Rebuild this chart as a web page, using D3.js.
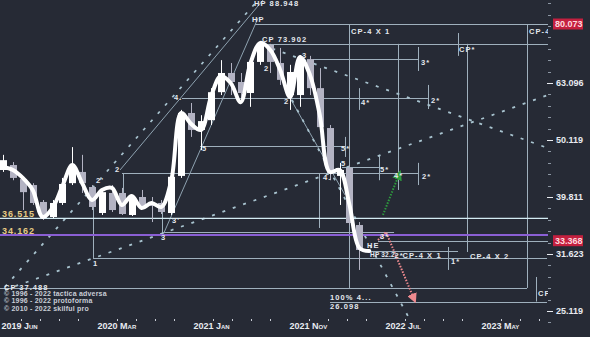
<!DOCTYPE html>
<html>
<head>
<meta charset="utf-8">
<script src="https://cdn.jsdelivr.net/npm/d3@7"></script>
<style>
html, body { margin: 0; padding: 0; background: #262a35; }
svg { display: block; }
text { font-family: "Liberation Sans", Arial, sans-serif; font-weight: bold; }
</style>
</head>
<body>
<svg id="chart" width="590" height="337"></svg>
<script>
const W = 590, H = 337;

// --- candles (one per bar, prices) ---
const candleOpen  = [44.4, 45.3, 42.8, 41.78, 39.02, 36.72, 38.86, 42.1, 44.05, 41.45, 37.32, 40.46, 40.46, 37.02, 39.81, 38.86, 38.86, 37.32, 43.35, 55.9, 52.2, 54.3, 60.8, 65.7, 63.35, 60.6, 68.7, 73.6, 68.4, 60.1, 60.1, 69.5, 61.8, 52.6, 43.35, 44.8, 35.55];
const candleHigh  = [47.2, 45.85, 43.0, 42.1, 39.33, 39.33, 43.0, 48.7, 47.2, 41.78, 40.96, 41.78, 41.3, 40.14, 40.96, 39.81, 39.33, 43.5, 56.6, 58.2, 55.4, 61.8, 69.2, 68.4, 65.7, 69.8, 74.2, 73.9, 72.7, 67.9, 70.6, 70.4, 67.0, 53.25, 45.7, 45.3, 35.98];
const candleLow   = [44.05, 42.6, 37.77, 38.55, 36.28, 36.57, 38.55, 41.78, 40.46, 37.77, 37.02, 37.47, 37.02, 36.87, 38.08, 35.98, 37.17, 37.02, 43.0, 50.75, 48.1, 53.25, 60.1, 60.1, 58.2, 57.3, 67.9, 65.7, 62.6, 56.6, 57.3, 60.1, 52.2, 42.6, 38.55, 35.55, 29.65];
const candleClose = [46.2, 43.0, 40.6, 38.86, 36.57, 38.86, 41.96, 44.95, 42.1, 38.24, 40.6, 37.77, 37.17, 39.81, 38.24, 38.4, 37.47, 43.2, 55.9, 52.2, 54.1, 60.8, 65.7, 63.35, 60.6, 68.7, 73.9, 68.7, 63.9, 65.96, 69.8, 61.8, 52.8, 43.86, 44.4, 35.84, 32.14];

// smoothed price line (one value per bar)
const smoothLine = [44.95, 44.4, 43.0, 40.96, 36.72, 38.08, 41.6, 45.3, 42.1, 39.33, 40.96, 41.3, 38.55, 39.98, 38.08, 38.86, 38.24, 42.6, 55.9, 53.5, 52.2, 59.6, 64.9, 63.1, 58.4, 68.4, 74.2, 72.1, 66.5, 59.6, 70.1, 65.2, 55.4, 44.05, 44.4, 38.55, 32.4, 32.0];

// --- annotation geometry, in [bar, price] units ---
const hSegments = [ // [fromBar, toBar, price]
  [25.45, 55.05, 80.073], [26.16, 55.05, 73.902], [31.31, 41.92, 69.5],
  [18.08, 42.93, 59.4], [19.90, 34.55, 48.9], [34.24, 38.08, 44.95],
  [12.02, 41.92, 43.86], [16.06, 39.5, 34.56], [37.88, 55.05, 33.368],
  [37.07, 45.96, 32.01], [9.09, 54.95, 31.12], [-0.3, 52.93, 27.57],
  [33.03, 54.95, 26.098]
];
const vSegments = [ // [bar, priceTop, priceBottom]
  [9.09, 40.46, 31.12], [12.12, 43.86, 37.77], [16.06, 37.77, 34.56],
  [31.92, 43.86, 35.13], [34.95, 80.073, 27.57], [39.90, 73.902, 40.96],
  [46.87, 73.902, 31.88], [52.93, 80.073, 27.57], [35.96, 61.8, 56.6],
  [41.92, 72.98, 66.24], [42.93, 62.6, 56.8], [45.96, 77.2, 70.4],
  [34.55, 50.75, 46.8], [37.98, 47.2, 42.6], [41.92, 45.7, 41.78],
  [44.95, 32.53, 29.65], [53.84, 28.82, 26.1]
];
const brightLevel = 36.515;
const purpleLevel = 34.162;
const solidDiagonals = [
  [[11.82, 44.4], [26.26, 88.2]],
  [[16.16, 34.14], [25.76, 82.0]],
  [[28.99, 59.4], [34.55, 40.14]]
];
const dottedDiagonals = [
  [[0.20, 27.68], [25.76, 88.2]],
  [[0.20, 27.35], [55.05, 60.1]],
  [[26.16, 73.6], [55.05, 48.5]],
  [[29.19, 58.9], [41.11, 24.23]]
];
const pinkArrow = [[37.88, 33.47], [38.69, 34.56], [41.62, 26.1]];
const greenArrow = [[38.38, 37.02], [40.10, 44.05]];

const chartLabels = [ // [bar, price, text]
  [25.35, 86.1, "HP 88.948"], [25.15, 80.7, "HP"], [26.16, 74.45, "CP 73.902"],
  [35.15, 76.9, "CP-4 X 1"], [53.13, 76.9, "CP-4"], [46.06, 71.5, "CP*"],
  [42.22, 67.9, "3*"], [43.23, 58.2, "2*"], [36.16, 57.7, "4*"],
  [26.36, 66.24, "2"], [30.2, 69.8, "3"], [28.38, 57.97, "2"],
  [17.27, 58.9, "4."], [20.1, 47.9, "5"], [34.14, 47.9, "5*"],
  [34.14, 45.1, "5"], [32.32, 42.6, "4."], [38.08, 44.05, "5*"],
  [39.5, 43.0, "4*"], [42.32, 42.8, "2*"], [9.39, 42.1, "2'"],
  [11.31, 44.05, "2"], [17.07, 35.84, "3'"], [15.96, 33.47, "3"],
  [9.09, 30.1, "1"], [36.77, 32.4, "HE"],
  [38.08, 33.6, "3*"], [39.55, 31.12, "2*"], [40.35, 31.12, "CP-4 X 1"],
  [45.25, 30.4, "1*"], [47.17, 31.0, "CP-4 X 2"], [54.04, 26.7, "CF"],
  [33.03, 26.26, "100% 4..."], [33.03, 25.3, "26.098"]
];
const lowLabel = [37.07, 31.24, "HP 32.2"];
const levelLabels = [[-0.1, 36.72, "36.515"], [-0.1, 34.29, "34.162"]];

// right axis
const yMajorTicks = [25.119, 31.623, 39.811, 50.119, 63.096];
const yTagValues = [80.073, 33.368];

// bottom axis (bar positions)
const xTickBars = [-0.15, 1.79, 3.73, 5.67, 7.61, 9.55, 11.48, 13.42, 15.36, 17.30, 19.24, 21.18, 23.12, 25.06, 27.00, 28.94, 30.87, 32.81, 34.75, 36.69, 38.63, 40.57, 42.51, 44.45, 46.39, 48.33, 50.26, 52.20, 54.14];
const xLabelBars = [-0.15, 9.55, 19.24, 28.94, 38.63, 48.33];
const xLabelYears = ["2019", "2020", "2021", "2021", "2022", "2023"];
const xLabelMonths = ["Jun", "Mar", "Jan", "Nov", "Jul", "May"];

const copyrightLines = ["© 1996 - 2022 tactica adversa", "© 1996 - 2022 protoforma", "© 2010 - 2022 skilful pro"];

// --- scales ---
const x = d3.scaleLinear().domain([0, 55]).range([3, 547.5]);
const y = d3.scaleLog().domain([Math.pow(10, 1.4), Math.pow(10, 1.8)]).range([311, 83]);

const svg = d3.select("#chart");
svg.append("rect").attr("width", W).attr("height", H).attr("fill", "#262a35");

const defs = svg.append("defs");
defs.append("clipPath").attr("id", "plot")
  .append("rect").attr("x", 0).attr("y", 0).attr("width", 548).attr("height", 322);

const gPlot = svg.append("g").attr("clip-path", "url(#plot)");
const lineColor = "#9fb0bd";

// thin annotation lines
gPlot.selectAll(".hseg").data(hSegments).join("line")
  .attr("class", "hseg")
  .attr("x1", d => x(d[0])).attr("x2", d => x(d[1]))
  .attr("y1", d => Math.round(y(d[2])) + 0.5).attr("y2", d => Math.round(y(d[2])) + 0.5)
  .attr("stroke", lineColor).attr("stroke-width", 1);

gPlot.selectAll(".vseg").data(vSegments).join("line")
  .attr("class", "vseg")
  .attr("x1", d => Math.round(x(d[0])) + 0.5).attr("x2", d => Math.round(x(d[0])) + 0.5)
  .attr("y1", d => y(d[1])).attr("y2", d => y(d[2]))
  .attr("stroke", lineColor).attr("stroke-width", 1);

const seg = d3.line().x(d => x(d[0])).y(d => y(d[1]));

gPlot.selectAll(".diag").data(solidDiagonals).join("path")
  .attr("class", "diag")
  .attr("d", seg).attr("fill", "none")
  .attr("stroke", "#8ea2b0").attr("stroke-width", 1);

gPlot.selectAll(".dots").data(dottedDiagonals).join("path")
  .attr("class", "dots")
  .attr("d", seg).attr("fill", "none")
  .attr("stroke", "#a8c3cf").attr("stroke-width", 1.8)
  .attr("stroke-dasharray", "3,8");

// key levels
gPlot.append("line")
  .attr("x1", 0).attr("x2", 548)
  .attr("y1", y(brightLevel)).attr("y2", y(brightLevel))
  .attr("stroke", "#d3ebf3").attr("stroke-width", 1.4);
gPlot.append("line")
  .attr("x1", 0).attr("x2", 548)
  .attr("y1", y(purpleLevel)).attr("y2", y(purpleLevel))
  .attr("stroke", "#8a5fd4").attr("stroke-width", 2);

// candles
const bars = candleOpen.map((o, i) => ({ i, o, h: candleHigh[i], l: candleLow[i], c: candleClose[i] }));
const candleUp = "#ffffff", candleDown = "#b3b3c3";

gPlot.selectAll(".wick").data(bars).join("line")
  .attr("class", "wick")
  .attr("x1", d => Math.round(x(d.i)) + 0.5).attr("x2", d => Math.round(x(d.i)) + 0.5)
  .attr("y1", d => y(d.h)).attr("y2", d => y(d.l))
  .attr("stroke", d => d.c >= d.o ? candleUp : candleDown).attr("stroke-width", 1);

gPlot.selectAll(".body").data(bars).join("rect")
  .attr("class", "body")
  .attr("x", d => Math.round(x(d.i)) - 3)
  .attr("width", 7)
  .attr("y", d => y(Math.max(d.o, d.c)))
  .attr("height", d => Math.max(1, Math.abs(y(d.o) - y(d.c))))
  .attr("fill", d => d.c >= d.o ? candleUp : candleDown);

// smoothed line
gPlot.append("path")
  .datum(smoothLine)
  .attr("d", d3.line().x((d, i) => x(i)).y(d => y(d)).curve(d3.curveCatmullRom.alpha(0.5)))
  .attr("fill", "none")
  .attr("stroke", "#ffffff").attr("stroke-width", 4)
  .attr("stroke-linejoin", "round").attr("stroke-linecap", "round");

// forecast arrows
[["pinkHead", "#ee8a8f"], ["greenHead", "#2e9d3f"]].forEach(([id, col]) => {
  defs.append("marker").attr("id", id)
    .attr("viewBox", "0 0 10 10").attr("refX", 8).attr("refY", 5)
    .attr("markerWidth", 5).attr("markerHeight", 5)
    .attr("orient", "auto-start-reverse")
    .append("path").attr("d", "M0,0L10,5L0,10Z").attr("fill", col);
});
gPlot.append("path").datum(pinkArrow)
  .attr("d", seg).attr("fill", "none")
  .attr("stroke", "#ee8a8f").attr("stroke-width", 2)
  .attr("stroke-dasharray", "1.5,1.5")
  .attr("marker-end", "url(#pinkHead)");
gPlot.append("path").datum(greenArrow)
  .attr("d", seg).attr("fill", "none")
  .attr("stroke", "#2e9d3f").attr("stroke-width", 2)
  .attr("stroke-dasharray", "1.5,1.5")
  .attr("marker-end", "url(#greenHead)");

// labels
gPlot.selectAll(".lbl").data(chartLabels).join("text")
  .attr("class", "lbl")
  .attr("x", d => x(d[0])).attr("y", d => y(d[1]))
  .attr("font-size", 7.5).attr("letter-spacing", 1.1)
  .attr("fill", "#e4e8ee")
  .text(d => d[2]);

gPlot.append("text")
  .attr("x", x(lowLabel[0])).attr("y", y(lowLabel[1]))
  .attr("font-size", 6.5).attr("letter-spacing", 0.2)
  .attr("fill", "#e4e8ee")
  .text(lowLabel[2]);

gPlot.selectAll(".lvl").data(levelLabels).join("text")
  .attr("class", "lvl")
  .attr("x", d => x(d[0])).attr("y", d => y(d[1]))
  .attr("font-size", 9).attr("letter-spacing", 0.9)
  .attr("fill", "#e6cb84")
  .text(d => d[2]);

// copyright block
svg.append("text").attr("x", 4).attr("y", 289.5)
  .attr("font-size", 7.5).attr("fill", "#e8ebf0").attr("letter-spacing", 1)
  .text("CP 37.488");
svg.selectAll(".copy").data(copyrightLines).join("text")
  .attr("class", "copy")
  .attr("x", 4).attr("y", (d, i) => 296 + i * 7.3)
  .attr("font-size", 7).attr("font-weight", "normal").attr("letter-spacing", 0.2)
  .attr("fill", "#c9cdd6")
  .text(d => d);

// right axis
const yMinor = d3.range(1.38, 1.95, 0.02).map(e => Math.pow(10, e));
svg.selectAll(".ymin").data(yMinor).join("line")
  .attr("class", "ymin")
  .attr("x1", 548).attr("x2", 551)
  .attr("y1", d => Math.round(y(d)) + 0.5).attr("y2", d => Math.round(y(d)) + 0.5)
  .attr("stroke", "#8c96a3").attr("stroke-width", 1);
svg.selectAll(".ymaj").data(yMajorTicks).join("line")
  .attr("class", "ymaj")
  .attr("x1", 547).attr("x2", 553)
  .attr("y1", d => Math.round(y(d)) + 0.5).attr("y2", d => Math.round(y(d)) + 0.5)
  .attr("stroke", "#e8ebf0").attr("stroke-width", 1);
svg.selectAll(".ylab").data(yMajorTicks).join("text")
  .attr("class", "ylab")
  .attr("x", 556).attr("y", d => y(d) + 3.2)
  .attr("font-size", 9).attr("fill", "#e8ebf0")
  .text(d => d3.format(".3f")(d));

const tags = svg.selectAll(".tag").data(yTagValues).join("g")
  .attr("class", "tag")
  .attr("transform", d => `translate(553,${y(d)})`);
tags.append("rect")
  .attr("x", 0).attr("y", -5.5).attr("width", 30).attr("height", 11)
  .attr("fill", "#c4203f");
tags.append("text")
  .attr("x", 2).attr("y", 3.3)
  .attr("font-size", 9).attr("fill", "#ffd9df")
  .text(d => d3.format(".3f")(d));

// bottom axis
svg.selectAll(".xdot").data(xTickBars.filter(b => !xLabelBars.includes(b))).join("rect")
  .attr("class", "xdot")
  .attr("x", d => Math.round(x(d))).attr("y", 319)
  .attr("width", 1).attr("height", 2)
  .attr("fill", "#c9cdd6");

const xl = svg.selectAll(".xlab").data(xLabelBars).join("text")
  .attr("class", "xlab")
  .attr("x", d => x(d)).attr("y", 329)
  .attr("font-size", 9).attr("fill", "#e8ebf0");
xl.append("tspan").text((d, i) => xLabelYears[i] + " ");
xl.append("tspan").attr("font-variant", "small-caps").text((d, i) => xLabelMonths[i]);
</script>
</body>
</html>
